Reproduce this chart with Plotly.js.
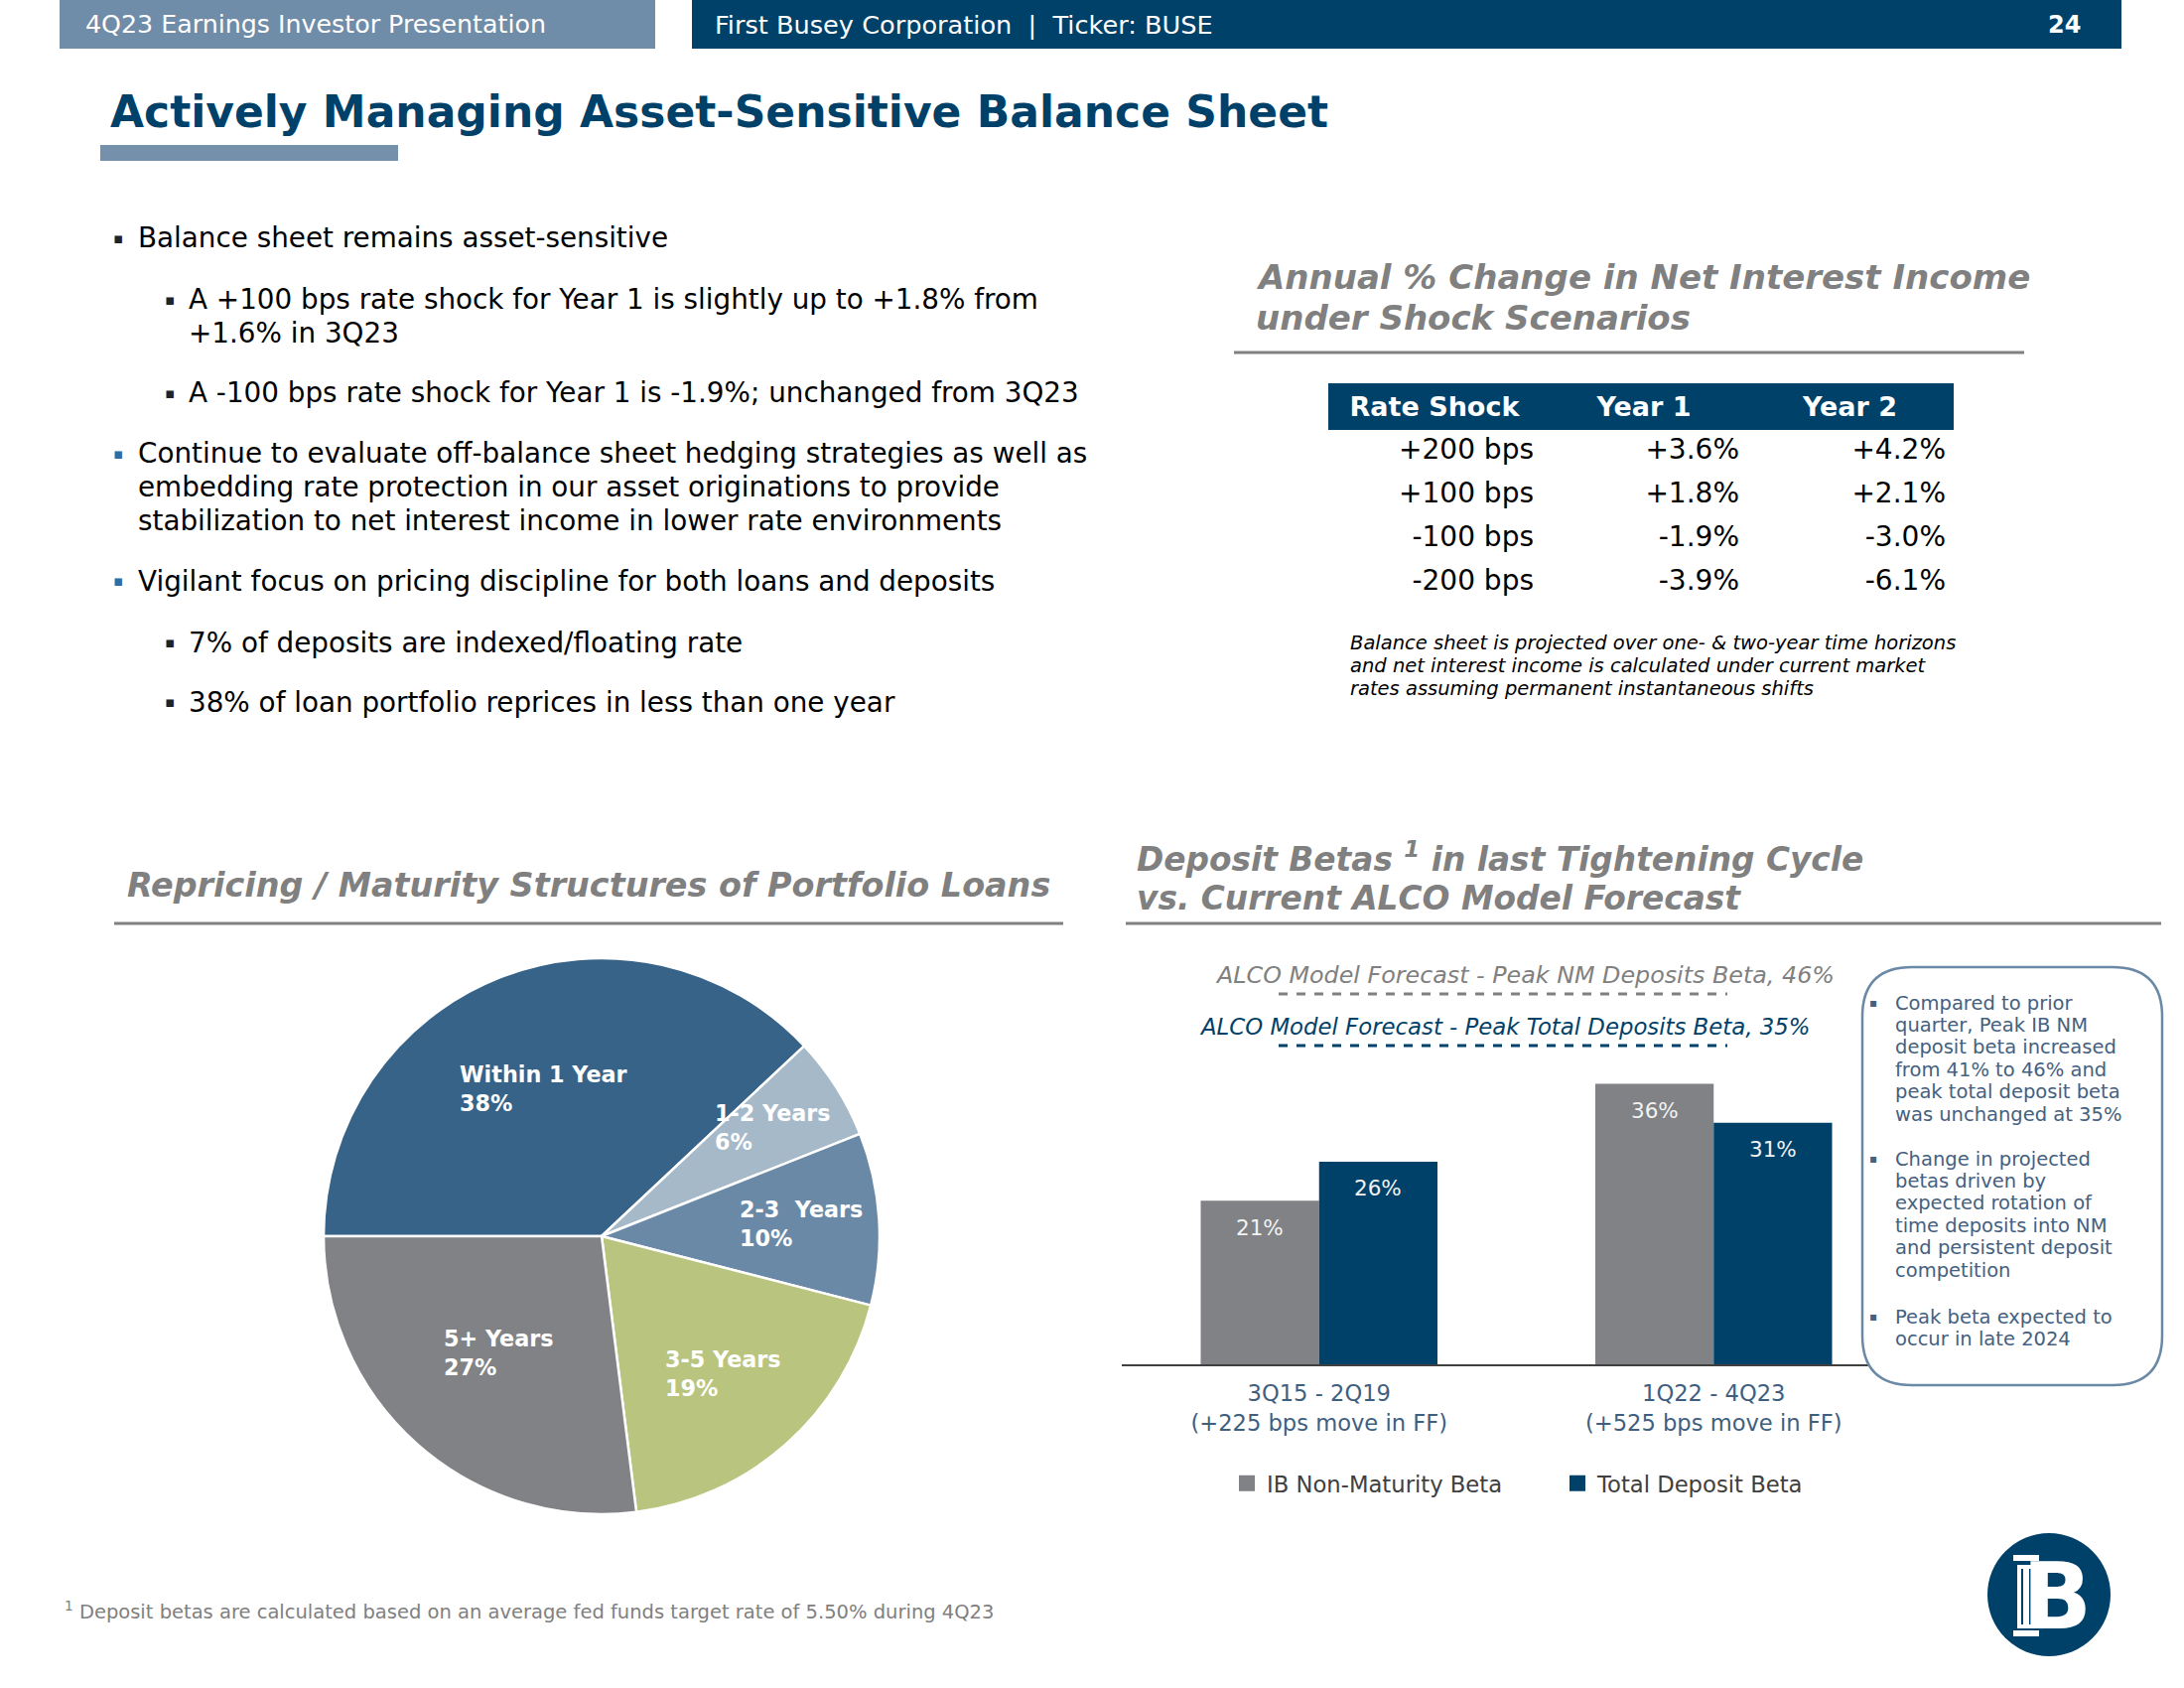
<!DOCTYPE html>
<html><head><meta charset="utf-8">
<script src="https://cdn.plot.ly/plotly-3.0.1.min.js"></script>
<style>html,body{margin:0;padding:0;background:#fff;} #chart{width:2200px;height:1700px;}</style>
</head><body><div id="chart"></div>
<script>
// ---------------- DATA ----------------
const pieLabels = ['Within 1 Year', '1-2 Years', '2-3\u00a0 Years', '3-5 Years', '5+ Years'];
const pieValues = [38, 6, 10, 19, 27];

const betaCategories = ['3Q15 - 2Q19<br>(+225 bps move in FF)', '1Q22 - 4Q23<br>(+525 bps move in FF)'];
const ibNonMaturityBeta = [21, 36];
const totalDepositBeta = [26, 31];
const betaSeriesNames = ['IB Non-Maturity Beta', 'Total Deposit Beta'];

const tableHeaders = ['Rate Shock', 'Year 1', 'Year 2'];
const shockScenarios = ['+200 bps', '+100 bps', '-100 bps', '-200 bps'];
const year1Change = ['+3.6%', '+1.8%', '-1.9%', '-3.9%'];
const year2Change = ['+4.2%', '+2.1%', '-3.0%', '-6.1%'];

const forecastNM = 'ALCO Model Forecast - Peak NM Deposits Beta, 46%';
const forecastTotal = 'ALCO Model Forecast - Peak Total Deposits Beta, 35%';

const headerLeft = '4Q23 Earnings Investor Presentation';
const headerRight = 'First Busey Corporation \u00a0|\u00a0 Ticker: BUSE';
const pageNumber = '24';
const slideTitle = 'Actively Managing Asset-Sensitive Balance Sheet';
const niiTitle = ['Annual % Change in Net Interest Income', 'under Shock Scenarios'];
const pieTitle = 'Repricing / Maturity Structures of Portfolio Loans';
const betaTitle = ['Deposit Betas <sup>1</sup> in last Tightening Cycle', 'vs. Current ALCO Model Forecast'];
const tableNote = ['Balance sheet is projected over one- & two-year time horizons',
  'and net interest income is calculated under current market',
  'rates assuming permanent instantaneous shifts'];
const footnote = '<sup>1</sup> Deposit betas are calculated based on an average fed funds target rate of 5.50% during 4Q23';

const bulletItems = [
  {level: 1, lines: ['Balance sheet remains asset-sensitive']},
  {level: 2, lines: ['A +100 bps rate shock for Year 1 is slightly up to +1.8% from', '+1.6% in 3Q23']},
  {level: 2, lines: ['A -100 bps rate shock for Year 1 is -1.9%; unchanged from 3Q23']},
  {level: 1, blue: true, lines: ['Continue to evaluate off-balance sheet hedging strategies as well as', 'embedding rate protection in our asset originations to provide', 'stabilization to net interest income in lower rate environments']},
  {level: 1, blue: true, lines: ['Vigilant focus on pricing discipline for both loans and deposits']},
  {level: 2, lines: ['7% of deposits are indexed/floating rate']},
  {level: 2, lines: ['38% of loan portfolio reprices in less than one year']}
];
const calloutBullets = [
  ['Compared to prior', 'quarter, Peak IB NM', 'deposit beta increased', 'from 41% to 46% and', 'peak total deposit beta', 'was unchanged at 35%'],
  ['Change in projected', 'betas driven by', 'expected rotation of', 'time deposits into NM', 'and persistent deposit', 'competition'],
  ['Peak beta expected to', 'occur in late 2024']
];

// ---------------- LAYOUT HELPERS ----------------
const W = 2200, H = 1700;
const px = x => x / W;
const py = y => 1 - y / H;
const FONT = 'DejaVu Sans, Verdana, sans-serif';
const NAVY = '#00416a';
const GREY = '#808080';
const SLATE = '#6f8ca8';
const CALLOUT = '#44617f';
const BAR_GREY = '#808285';

const annotations = [];
const shapes = [];
function txt(x, y, text, size, color, opt) {
  opt = opt || {};
  annotations.push({
    xref: 'paper', yref: 'paper', x: px(x), y: py(y), text: text,
    showarrow: false, xanchor: opt.xanchor || 'left', yanchor: opt.yanchor || 'middle',
    align: opt.align || 'left',
    font: {family: FONT, size: size, color: color}
  });
}
function rect(x0, y0, x1, y1, fill, line) {
  shapes.push({type: 'rect', xref: 'paper', yref: 'paper', x0: px(x0), x1: px(x1), y0: py(y1), y1: py(y0),
    fillcolor: fill, line: line || {width: 0}, layer: 'above'});
}
function hline(x0, x1, y, color, width, dash) {
  shapes.push({type: 'line', xref: 'paper', yref: 'paper', x0: px(x0), x1: px(x1), y0: py(y), y1: py(y),
    line: {color: color, width: width, dash: dash || 'solid'}, layer: 'above'});
}

// header
rect(60, 0, 660, 49, SLATE);
rect(697, 0, 2137, 49, NAVY);
txt(84, 25, headerLeft, 25.3, '#ffffff');
txt(718, 25, headerRight, 25.6, '#ffffff');
txt(2098, 25, '<b>' + pageNumber + '</b>', 24, '#ffffff', {xanchor: 'right'});

// title
txt(109, 112, '<b>' + slideTitle + '</b>', 44, NAVY);
rect(101, 146, 401, 162, '#7490ab');

// bullets
const bulletStarts = [240, 302, 396, 457, 585, 647, 707];
const bulletLineStep = 33.7;
bulletItems.forEach((b, i) => {
  const mx = b.level === 1 ? 112 : 164;
  const tx = b.level === 1 ? 137 : 188;
  txt(mx, bulletStarts[i], '\u25aa', 15, b.blue ? '#2f6ea3' : '#222222');
  b.lines.forEach((l, j) => txt(tx, bulletStarts[i] + j * bulletLineStep, l, 27.8, '#000000'));
});

// NII section
txt(1263, 279, '<b><i>' + niiTitle[0] + '</i></b>', 34, GREY);
txt(1263, 320, '<b><i>' + niiTitle[1] + '</i></b>', 34, GREY);
hline(1243, 2039, 355, GREY, 3);
tableNote.forEach((l, j) => txt(1358, 648 + j * 22.5, '<i>' + l + '</i>', 19.5, '#000000'));

// pie section
txt(126, 891, '<b><i>' + pieTitle + '</i></b>', 33.4, GREY);
hline(115, 1071, 930, GREY, 3);

// beta section
txt(1143, 864, '<b><i>' + betaTitle[0] + '</i></b>', 32.8, GREY);
txt(1143, 905, '<b><i>' + betaTitle[1] + '</i></b>', 32.8, GREY);
hline(1134, 2177, 930, GREY, 3);
txt(1536, 982, '<i>' + forecastNM + '</i>', 23.8, GREY, {xanchor: 'center'});
hline(1288, 1740, 1001, GREY, 3, 'dash');
txt(1515, 1034, '<i>' + forecastTotal + '</i>', 22.8, NAVY, {xanchor: 'center'});
hline(1288, 1740, 1053, NAVY, 3, 'dash');

// callout box (rounded)
(function () {
  const x0 = 1876, x1 = 2178, y0 = 974, y1 = 1395, r = 50;
  const P = (x, y) => px(x) + ',' + py(y);
  const path = 'M' + P(x0 + r, y0) + ' L' + P(x1 - r, y0) + ' Q' + P(x1, y0) + ' ' + P(x1, y0 + r) +
    ' L' + P(x1, y1 - r) + ' Q' + P(x1, y1) + ' ' + P(x1 - r, y1) +
    ' L' + P(x0 + r, y1) + ' Q' + P(x0, y1) + ' ' + P(x0, y1 - r) +
    ' L' + P(x0, y0 + r) + ' Q' + P(x0, y0) + ' ' + P(x0 + r, y0) + ' Z';
  shapes.push({type: 'path', xref: 'paper', yref: 'paper', path: path, fillcolor: '#ffffff',
    line: {color: '#6a89a6', width: 2.5}, layer: 'above'});
})();
const calloutStarts = [1010, 1167, 1326];
calloutBullets.forEach((b, i) => {
  txt(1881, calloutStarts[i], '\u25aa', 12, CALLOUT);
  b.forEach((l, j) => txt(1907, calloutStarts[i] + j * 22.4, l, 19.5, CALLOUT));
});

// footnote
txt(63, 1622, footnote, 19.5, GREY);

// logo
shapes.push({type: 'circle', xref: 'paper', yref: 'paper', x0: px(2002), x1: px(2126), y0: py(1668), y1: py(1544),
  fillcolor: NAVY, line: {width: 0}, layer: 'above'});
txt(2072, 1608, '<b>B</b>', 92, '#ffffff', {xanchor: 'center'});
rect(2028, 1566, 2054, 1572, '#ffffff');
rect(2032, 1576, 2050, 1640, '#ffffff');
rect(2028, 1642, 2054, 1648, '#ffffff');
rect(2036, 1580, 2038, 1636, NAVY);
rect(2044, 1580, 2046, 1636, NAVY);

// pie labels (placed along each slice's mid-angle)
const pieCx = 606, pieCy = 1245, pieR = 280;
const pieLabelRadius = [0.57, 0.73, 0.72, 0.66, 0.56];
(function () {
  const tot = pieValues.reduce((a, b) => a + b, 0);
  let cum = 270;
  pieValues.forEach((v, i) => {
    const span = v / tot * 360;
    const mid = (cum + span / 2) * Math.PI / 180;
    cum += span;
    const rr = pieLabelRadius[i] * pieR;
    const lx = pieCx + rr * Math.sin(mid), ly = pieCy - rr * Math.cos(mid);
    annotations.push({xref: 'paper', yref: 'paper', x: px(lx), y: py(ly), showarrow: false,
      xanchor: 'center', yanchor: 'middle', align: 'left',
      text: '<b>' + pieLabels[i] + '<br>' + v + '%</b>',
      font: {family: FONT, size: 22.3, color: '#ffffff'}});
  });
})();

// bar value labels, anchored to each bar top through the data axes
const barXDomain = [px(1130), px(1925)];
const barGap = 0.4;
(function () {
  const bandPx = (barXDomain[1] - barXDomain[0]) * W / betaCategories.length;
  const barPx = bandPx * (1 - barGap) / 2;
  [ibNonMaturityBeta, totalDepositBeta].forEach((series, s) => {
    series.forEach((v, j) => {
      annotations.push({xref: 'x', yref: 'y', x: betaCategories[j], y: v, showarrow: false,
        xanchor: 'center', yanchor: 'middle', xshift: (s === 0 ? -1 : 1) * barPx / 2, yshift: -27,
        text: v + '%', font: {family: FONT, size: 21.5, color: '#f2f2f2'}});
    });
  });
})();

// ---------------- TRACES ----------------
const traces = [
  {
    type: 'pie', labels: pieLabels, values: pieValues, sort: false, direction: 'clockwise', rotation: 270,
    domain: {x: [px(pieCx - pieR), px(pieCx + pieR)], y: [py(pieCy + pieR), py(pieCy - pieR)]},
    marker: {colors: ['#366387', '#a6b9c9', '#6a89a6', '#b9c47e', '#818285'], line: {color: '#ffffff', width: 2.5}},
    textinfo: 'none', hoverinfo: 'skip', showlegend: false
  },
  {
    type: 'bar', name: betaSeriesNames[0], x: betaCategories, y: ibNonMaturityBeta,
    marker: {color: BAR_GREY}, hoverinfo: 'skip', xaxis: 'x', yaxis: 'y', showlegend: false
  },
  {
    type: 'bar', name: betaSeriesNames[1], x: betaCategories, y: totalDepositBeta,
    marker: {color: NAVY}, hoverinfo: 'skip', xaxis: 'x', yaxis: 'y', showlegend: false
  },
  // legend entries with square swatches
  {
    type: 'scatter', mode: 'markers', name: betaSeriesNames[0], x: [null], y: [null],
    marker: {symbol: 'square', size: 16, color: BAR_GREY}, xaxis: 'x', yaxis: 'y', hoverinfo: 'skip'
  },
  {
    type: 'scatter', mode: 'markers', name: betaSeriesNames[1], x: [null], y: [null],
    marker: {symbol: 'square', size: 16, color: NAVY}, xaxis: 'x', yaxis: 'y', hoverinfo: 'skip'
  },
  {
    type: 'table',
    domain: {x: [px(1338), px(1968)], y: [py(640), py(386)]},
    columnwidth: [215, 207, 208],
    header: {
      values: tableHeaders.map(h => '<b>' + h + '</b>'),
      fill: {color: NAVY}, line: {color: NAVY, width: 0},
      font: {family: FONT, size: 27, color: '#ffffff'}, align: 'center', height: 43
    },
    cells: {
      values: [shockScenarios, year1Change, year2Change],
      fill: {color: '#ffffff'}, line: {color: '#ffffff', width: 0},
      font: {family: FONT, size: 28, color: '#000000'}, align: 'right', height: 44
    }
  }
];

const layout = {
  width: W, height: H, margin: {l: 0, r: 0, t: 0, b: 0},
  paper_bgcolor: '#ffffff', plot_bgcolor: '#ffffff',
  font: {family: FONT},
  barmode: 'group', bargap: barGap, bargroupgap: 0,
  xaxis: {
    domain: barXDomain, type: 'category', range: [-0.5, 1.5],
    showline: true, linecolor: '#404040', linewidth: 2, ticks: '', showgrid: false, zeroline: false,
    tickfont: {family: FONT, size: 22.6, color: '#3f5f7f'}, ticklabelstandoff: 8, fixedrange: true
  },
  yaxis: {
    domain: [py(1374), py(1060)], range: [0, 40], visible: false, showgrid: false, zeroline: false, fixedrange: true
  },
  showlegend: true,
  legend: {
    orientation: 'h', x: px(1236), y: py(1494), xanchor: 'left', yanchor: 'middle',
    font: {family: FONT, size: 22.7, color: '#404040'}, entrywidth: 288, entrywidthmode: 'pixels',
    itemsizing: 'trace', bgcolor: 'rgba(0,0,0,0)'
  },
  annotations: annotations,
  shapes: shapes,
  hovermode: false
};

Plotly.newPlot('chart', traces, layout, {staticPlot: true, displayModeBar: false});
</script>
</body></html>
